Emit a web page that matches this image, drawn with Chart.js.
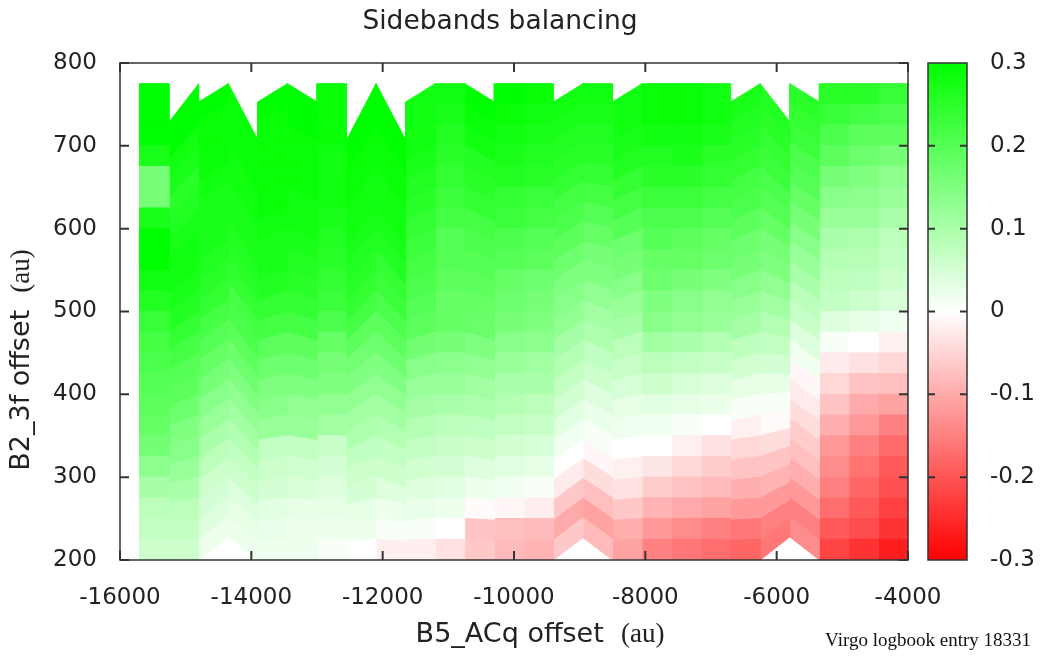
<!DOCTYPE html>
<html>
<head>
<meta charset="utf-8">
<script src="https://cdn.jsdelivr.net/npm/chart.js@4.4.1/dist/chart.umd.min.js"></script>
<style>
html,body{margin:0;padding:0;background:#fff;}
canvas{display:block;}
</style>
</head>
<body>
<canvas id="c" width="1045" height="656"></canvas>
<script>
// ---- measurement grid (B5_ACq offset nodes) ----
const xNodes = [-15700,-15250,-14800,-14350,-13900,-13450,-13000,-12550,-12100,-11650,-11200,-10750,-10300,-9850,-9400,-8950,-8500,-8050,-7600,-7150,-6700,-6250,-5800,-5350,-4900,-4450,-4000];
// B2_3f offset limits of each cell column (left / right node)
const cellTopLeft     = [775,729,753,775,753,775,775,707,775,753,775,775,775,775,753,775,753,775,775,775,753,775,775,775,775,775];
const cellTopRight    = [775,775,775,707,775,753,775,775,707,775,775,753,775,775,775,775,775,775,775,775,775,729,753,775,775,775];
const cellBottomLeft  = [200,200,200,228,200,200,200,200,200,200,200,200,200,200,200,227,200,200,200,200,200,200,228,200,200,200];
const cellBottomRight = [200,200,228,200,200,200,200,200,200,200,200,200,200,200,227,200,200,200,200,200,200,228,200,200,200,200];
const rowsPerColumn = 23;
// sideband balance values, one array per cell column, from bottom row (≈200) to top row (≈775)
const col01 = [0.06,0.07,0.08,0.105,0.135,0.165,0.18,0.19,0.2,0.21,0.22,0.235,0.26,0.28,0.3,0.3,0.27,0.16,0.16,0.27,0.3,0.3,0.3];
const col02 = [0.06,0.07,0.08,0.1,0.12,0.14,0.15,0.17,0.19,0.2,0.22,0.24,0.26,0.27,0.28,0.28,0.27,0.26,0.25,0.27,0.28,0.3,0.3];
const col03 = [0.02,0.04,0.05,0.06,0.08,0.1,0.12,0.14,0.16,0.18,0.2,0.22,0.24,0.25,0.26,0.27,0.27,0.27,0.28,0.29,0.29,0.29,0.3];
const col04 = [0.02,0.03,0.04,0.06,0.07,0.09,0.11,0.13,0.15,0.17,0.19,0.21,0.22,0.24,0.25,0.26,0.27,0.27,0.28,0.28,0.29,0.29,0.29];
const col05 = [0.02,0.025,0.035,0.05,0.06,0.07,0.12,0.14,0.15,0.17,0.19,0.22,0.24,0.26,0.27,0.27,0.28,0.29,0.29,0.29,0.29,0.29,0.3];
const col06 = [0.02,0.02,0.03,0.045,0.055,0.07,0.12,0.13,0.15,0.17,0.19,0.22,0.24,0.25,0.26,0.27,0.28,0.28,0.29,0.29,0.29,0.3,0.3];
const col07 = [0.01,0.02,0.03,0.04,0.05,0.065,0.11,0.13,0.15,0.16,0.18,0.21,0.23,0.24,0.25,0.26,0.27,0.28,0.28,0.28,0.29,0.29,0.29];
const col08 = [0.0,0.02,0.03,0.05,0.06,0.075,0.095,0.11,0.13,0.15,0.165,0.19,0.22,0.24,0.25,0.26,0.27,0.28,0.28,0.29,0.29,0.3,0.3];
const col09 = [-0.02,0.01,0.02,0.04,0.06,0.07,0.09,0.11,0.13,0.15,0.17,0.19,0.21,0.23,0.24,0.26,0.27,0.28,0.28,0.29,0.29,0.3,0.3];
const col10 = [-0.02,0.01,0.025,0.04,0.055,0.07,0.09,0.105,0.12,0.14,0.165,0.19,0.2,0.21,0.22,0.23,0.24,0.25,0.26,0.27,0.28,0.28,0.28];
const col11 = [-0.035,0.0,0.02,0.035,0.05,0.065,0.08,0.1,0.12,0.135,0.16,0.18,0.18,0.19,0.2,0.2,0.22,0.23,0.24,0.25,0.26,0.27,0.28];
const col12 = [-0.065,-0.07,-0.005,0.02,0.04,0.06,0.075,0.095,0.11,0.13,0.15,0.175,0.18,0.19,0.2,0.21,0.22,0.24,0.25,0.26,0.28,0.29,0.3];
const col13 = [-0.08,-0.075,-0.01,0.018,0.035,0.053,0.07,0.09,0.1,0.12,0.14,0.16,0.17,0.18,0.2,0.21,0.23,0.24,0.26,0.27,0.28,0.29,0.3];
const col14 = [-0.09,-0.08,-0.02,0.01,0.03,0.047,0.065,0.08,0.1,0.11,0.135,0.15,0.16,0.17,0.19,0.2,0.22,0.23,0.25,0.26,0.27,0.28,0.29];
const col15 = [-0.065,-0.1,-0.065,-0.024,0.0,0.018,0.035,0.053,0.07,0.09,0.105,0.13,0.14,0.15,0.17,0.19,0.21,0.22,0.24,0.25,0.26,0.27,0.28];
const col16 = [-0.08,-0.11,-0.075,-0.04,-0.01,0.01,0.024,0.04,0.06,0.075,0.095,0.11,0.13,0.15,0.16,0.18,0.2,0.22,0.24,0.25,0.26,0.27,0.28];
const col17 = [-0.11,-0.095,-0.065,-0.035,-0.018,0.0,0.018,0.03,0.047,0.065,0.08,0.105,0.12,0.14,0.16,0.17,0.2,0.22,0.24,0.26,0.27,0.28,0.28];
const col18 = [-0.15,-0.12,-0.09,-0.06,-0.03,0.0,0.018,0.035,0.06,0.08,0.11,0.14,0.15,0.17,0.18,0.2,0.21,0.23,0.25,0.26,0.28,0.29,0.29];
const col19 = [-0.16,-0.135,-0.1,-0.07,-0.047,-0.018,0.01,0.03,0.047,0.07,0.1,0.13,0.14,0.16,0.18,0.19,0.21,0.23,0.25,0.27,0.28,0.29,0.29];
const col20 = [-0.17,-0.15,-0.11,-0.08,-0.06,-0.035,0.0,0.024,0.04,0.065,0.09,0.12,0.13,0.15,0.17,0.18,0.2,0.22,0.24,0.25,0.27,0.28,0.28];
const col21 = [-0.18,-0.16,-0.12,-0.095,-0.07,-0.047,-0.018,0.01,0.03,0.053,0.076,0.105,0.12,0.14,0.16,0.17,0.19,0.21,0.22,0.24,0.25,0.26,0.27];
const col22 = [-0.16,-0.15,-0.12,-0.09,-0.07,-0.04,-0.005,0.01,0.03,0.05,0.07,0.09,0.11,0.13,0.15,0.16,0.18,0.2,0.21,0.23,0.24,0.25,0.26];
const col23 = [-0.135,-0.15,-0.12,-0.095,-0.075,-0.06,-0.04,-0.024,-0.01,0.018,0.04,0.065,0.08,0.1,0.12,0.14,0.16,0.18,0.2,0.21,0.23,0.24,0.25];
const col24 = [-0.22,-0.195,-0.17,-0.15,-0.135,-0.12,-0.095,-0.07,-0.047,-0.024,0.01,0.04,0.07,0.08,0.09,0.1,0.12,0.14,0.16,0.19,0.21,0.235,0.25];
const col25 = [-0.24,-0.21,-0.195,-0.18,-0.165,-0.15,-0.12,-0.1,-0.07,-0.035,0.0,0.03,0.06,0.075,0.085,0.095,0.12,0.135,0.15,0.17,0.19,0.22,0.25];
const col26 = [-0.265,-0.24,-0.225,-0.205,-0.195,-0.175,-0.15,-0.11,-0.075,-0.047,-0.018,0.018,0.045,0.06,0.07,0.08,0.1,0.12,0.135,0.16,0.19,0.21,0.235];
// tick values
const xTicks = [-16000,-14000,-12000,-10000,-8000,-6000,-4000];
const yTicks = [200,300,400,500,600,700,800];
const cbTicks = [-0.3,-0.2,-0.1,0,0.1,0.2,0.3];

const columns = [col01,col02,col03,col04,col05,col06,col07,col08,col09,col10,col11,col12,col13,col14,col15,col16,col17,col18,col19,col20,col21,col22,col23,col24,col25,col26];
const CB_MAX = 0.3;

function colorFor(v){
  const t = Math.min(1, Math.abs(v)/CB_MAX);
  const c = Math.round(255*(1-t));
  return v >= 0 ? `rgb(${c},255,${c})` : `rgb(255,${c},${c})`;
}

const datasets = [];
columns.forEach((vals, k) => {
  const xl = xNodes[k], xr = xNodes[k+1];
  for (let j = 0; j < rowsPerColumn; j++) {
    const f0 = j/rowsPerColumn, f1 = (j+1)/rowsPerColumn;
    const yl0 = cellBottomLeft[k] + (cellTopLeft[k]-cellBottomLeft[k])*f0;
    const yl1 = cellBottomLeft[k] + (cellTopLeft[k]-cellBottomLeft[k])*f1;
    const yr0 = cellBottomRight[k] + (cellTopRight[k]-cellBottomRight[k])*f0;
    const yr1 = cellBottomRight[k] + (cellTopRight[k]-cellBottomRight[k])*f1;
    const col = colorFor(vals[j]);
    datasets.push({
      data: [{x:xl,y:yl0},{x:xr,y:yr0},{x:xr,y:yr1},{x:xl,y:yl1},{x:xl,y:yl0}],
      showLine: true, fill: 'shape', tension: 0,
      backgroundColor: col, borderColor: col, borderWidth: 1,
      pointRadius: 0, pointHoverRadius: 0
    });
  }
});

const SANS = 'DejaVu Sans';
const SERIF = 'Liberation Serif';
const INK = '#222';

const framePlugin = {
  id: 'frame',
  afterDraw(chart){
    const ctx = chart.ctx, a = chart.chartArea;
    const xs = chart.scales.x, ys = chart.scales.y, cb = chart.scales.cb;
    ctx.save();
    // plot border
    ctx.strokeStyle = '#333'; ctx.lineWidth = 1.5;
    ctx.strokeRect(a.left, a.top, a.right-a.left, a.bottom-a.top);
    // inward ticks
    ctx.lineWidth = 2;
    const tl = 9;
    ctx.beginPath();
    xTicks.forEach(v => {
      const p = xs.getPixelForValue(v);
      ctx.moveTo(p, a.bottom); ctx.lineTo(p, a.bottom - tl);
      ctx.moveTo(p, a.top); ctx.lineTo(p, a.top + tl);
    });
    yTicks.forEach(v => {
      const p = ys.getPixelForValue(v);
      ctx.moveTo(a.left, p); ctx.lineTo(a.left + tl, p);
      ctx.moveTo(a.right, p); ctx.lineTo(a.right - tl, p);
    });
    ctx.stroke();
    // colour box
    const bx0 = a.right + 20, bx1 = a.right + 59;
    const by0 = cb.getPixelForValue(CB_MAX), by1 = cb.getPixelForValue(-CB_MAX);
    const g = ctx.createLinearGradient(0, by0, 0, by1);
    g.addColorStop(0, 'rgb(0,255,0)');
    g.addColorStop(0.5, 'rgb(255,255,255)');
    g.addColorStop(1, 'rgb(255,0,0)');
    ctx.fillStyle = g;
    ctx.fillRect(bx0, by0, bx1-bx0, by1-by0);
    ctx.strokeStyle = '#333'; ctx.lineWidth = 1.5;
    ctx.strokeRect(bx0, by0, bx1-bx0, by1-by0);
    ctx.lineWidth = 2;
    ctx.beginPath();
    cbTicks.forEach(v => {
      if (Math.abs(v) > 0.29) return;
      const p = cb.getPixelForValue(v);
      ctx.moveTo(bx0, p); ctx.lineTo(bx0 + 7, p);
      ctx.moveTo(bx1, p); ctx.lineTo(bx1 - 7, p);
    });
    ctx.stroke();
    // titles
    ctx.fillStyle = INK;
    ctx.textBaseline = 'middle';
    ctx.font = `26.5px "${SANS}"`;
    ctx.textAlign = 'center';
    ctx.fillText('Sidebands balancing', 500, 22);
    const drawMixed = (sansPart, serifPart, cx, cy, size) => {
      ctx.font = `${size}px "${SANS}"`;
      const w1 = ctx.measureText(sansPart).width;
      ctx.font = `${size}px "${SERIF}"`;
      const w2 = ctx.measureText(serifPart).width;
      const x0 = cx - (w1 + w2)/2;
      ctx.textAlign = 'left';
      ctx.font = `${size}px "${SANS}"`;
      ctx.fillText(sansPart, x0, cy);
      ctx.font = `${size}px "${SERIF}"`;
      ctx.fillText(serifPart, x0 + w1, cy);
    };
    drawMixed('B5_ACq offset  ', '(au)', 540, 635, 27);
    ctx.save();
    ctx.translate(22, 360);
    ctx.rotate(-Math.PI/2);
    drawMixed('B2_3f offset  ', '(au)', 0, 0, 27);
    ctx.restore();
    // footnote
    ctx.font = `19px "${SERIF}"`;
    ctx.textAlign = 'right';
    ctx.fillStyle = '#111';
    ctx.fillText('Virgo logbook entry 18331', 1031, 641);
    ctx.restore();
  }
};

const tickFont = { family: SANS, size: 23 };
const noPad = s => { s.paddingTop = 0; s.paddingBottom = 0; };

new Chart(document.getElementById('c'), {
  type: 'scatter',
  data: { datasets },
  options: {
    responsive: false,
    animation: false,
    events: [],
    layout: { padding: { top: 63, left: 0, right: 0, bottom: 0 } },
    plugins: { legend: { display: false }, tooltip: { enabled: false }, title: { display: false } },
    scales: {
      x: {
        type: 'linear', position: 'bottom', min: -16000, max: -4000,
        afterBuildTicks(s){ s.ticks = xTicks.map(v => ({value: v})); },
        ticks: { padding: 24, color: INK, font: tickFont, maxRotation: 0, autoSkip: false, callback: v => String(v) },
        grid: { display: false, drawTicks: false }, border: { display: false },
        afterFit(s){ s.height = 96; s.paddingLeft = 0; s.paddingRight = 0; }
      },
      y: {
        type: 'linear', position: 'left', min: 200, max: 800,
        afterBuildTicks(s){ s.ticks = yTicks.map(v => ({value: v})); },
        ticks: { padding: 23, color: INK, font: tickFont, callback: v => String(v) },
        grid: { display: false, drawTicks: false }, border: { display: false },
        afterFit(s){ s.width = 120; noPad(s); }
      },
      cb: {
        type: 'linear', position: 'right', min: -CB_MAX, max: CB_MAX,
        afterBuildTicks(s){ s.ticks = cbTicks.map(v => ({value: v})); },
        ticks: { padding: 82, color: INK, font: tickFont, callback: v => (Math.round(v*10)/10).toString() },
        grid: { display: false, drawTicks: false }, border: { display: false },
        afterFit(s){ s.width = 137; noPad(s); }
      }
    }
  },
  plugins: [framePlugin]
});
</script>
</body>
</html>
